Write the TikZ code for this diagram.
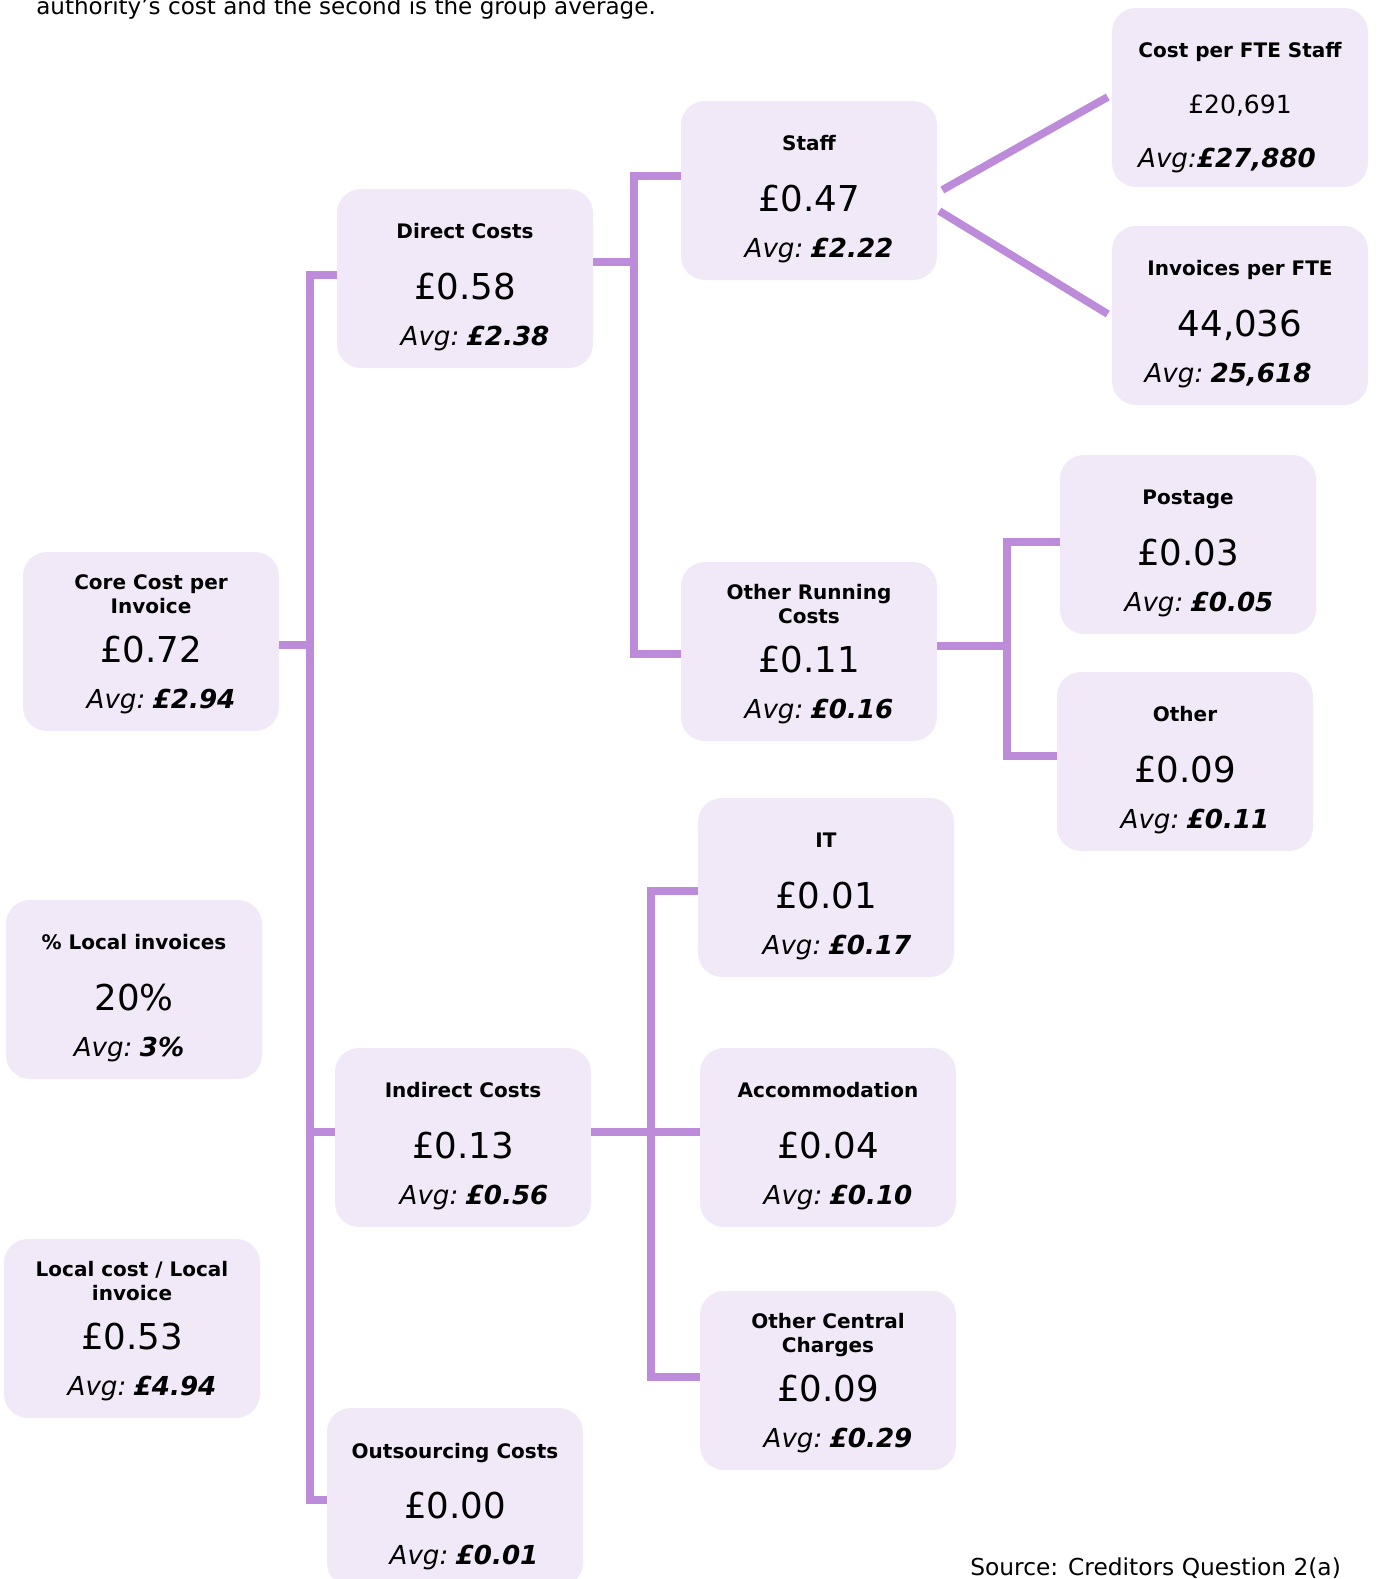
\documentclass[tikz,border=0pt]{standalone}
\usepackage{fontspec}
\setmainfont{DejaVu Sans}
\usetikzlibrary{calc}
\definecolor{boxfill}{RGB}{241,233,247}
\definecolor{conncol}{RGB}{188,140,218}
\tikzset{
  box/.style={fill=boxfill, draw=none, rounded corners=18pt, minimum width=192pt, minimum height=134.25pt, inner sep=0pt},
  ttl/.style={anchor=base, inner sep=0pt, align=center, font=\fontsize{15}{18}\selectfont\bfseries},
  val/.style={anchor=base, inner sep=0pt, font=\fontsize{26.7}{30}\selectfont},
  valsm/.style={anchor=base, inner sep=0pt, font=\fontsize{18.75}{22}\selectfont},
  avgtxt/.style={anchor=base, inner sep=0pt, font=\fontsize{19.6}{23}\selectfont},
  link/.style={draw=conncol, line width=5.8pt, line join=miter},
  plain/.style={anchor=base west, inner sep=0pt, font=\fontsize{17.3}{20}\selectfont},
}
% #1 name, #2 left, #3 top, #4 title, #5 value, #6 avg value, #7 avg dx, #8 title baseline offset (last line)
\newcommand\mkbox[8]{%
  \node[box] (#1) at ({#2+128},{#3+89.5}) {};
  \node[ttl] (#1-t) at ({#2+128},{#3+#8}) {#4};
  \node[val] (#1-v) at ({#2+128},{#3+110}) {#5};
  \node[avgtxt] (#1-a) at ({#2+128+#7},{#3+156}) {\textit{Avg:}\kern0.28em\textbf{\textit{#6}}};
}
\begin{document}
\begin{tikzpicture}[x=0.75pt,y=-0.75pt]
\useasboundingbox (0,0) rectangle (1378,1579);
\clip (0,0) rectangle (1378,1579);

\node[plain] (intro) at (36,14) {authority's cost and the second is the group average.};

% boxes
\node[box] (cpf) at (1240,97.5) {};
\node[ttl] (cpf-t) at (1240,57) {Cost per FTE Staff};
\node[valsm] (cpf-v) at (1240,113) {£20,691};
\node[avgtxt] (cpf-a) at (1227,167) {\textit{Avg:}\textbf{\textit{£27,880}}};

\mkbox{ipf}{1112}{226}{Invoices per FTE}{44,036}{25,618}{-12}{49}
\mkbox{staff}{681}{101}{Staff}{£0.47}{£2.22}{10}{49}
\mkbox{direct}{337}{189}{Direct Costs}{£0.58}{£2.38}{10}{49}
\mkbox{postage}{1060}{455}{Postage}{£0.03}{£0.05}{11}{49}
\mkbox{orc}{681}{562}{Other Running\\Costs}{£0.11}{£0.16}{10}{61}
\mkbox{other}{1057}{672}{Other}{£0.09}{£0.11}{10}{49}
\mkbox{core}{23}{552}{Core Cost per\\Invoice}{£0.72}{£2.94}{10}{61}
\mkbox{it}{698}{798}{IT}{£0.01}{£0.17}{11}{49}
\mkbox{local}{6}{900}{\% Local invoices}{20\%}{3\%}{-5}{49}
\mkbox{indirect}{335}{1048}{Indirect Costs}{£0.13}{£0.56}{11}{49}
\mkbox{accom}{700}{1048}{Accommodation}{£0.04}{£0.10}{10}{49}
\mkbox{lcost}{4}{1239}{Local cost / Local\\invoice}{£0.53}{£4.94}{10}{61}
\mkbox{occ}{700}{1291}{Other Central\\Charges}{£0.09}{£0.29}{10}{61}
\mkbox{outs}{327}{1408}{Outsourcing Costs}{£0.00}{£0.01}{9}{50}

% junctions
\coordinate (tA) at (310,275);
\coordinate (tB) at (310,1500);
\coordinate (dA) at (634,176);
\coordinate (dB) at (634,654);
\coordinate (oA) at (1007,542);
\coordinate (oB) at (1007,756);
\coordinate (iA) at (651,891);
\coordinate (iB) at (651,1377);

% connectors
\draw[link] (direct.west |- tA) -- (tA) -- (tB) -- (outs.west |- tB);
\draw[link] (core.east |- 0,645) -- (310,645);
\draw[link] (indirect.west |- 0,1132) -- (310,1132);

\draw[link] (staff.west |- dA) -- (dA) -- (dB) -- (orc.west |- dB);
\draw[link] (direct.east |- 0,262) -- (634,262);

\draw[link] (postage.west |- oA) -- (oA) -- (oB) -- (other.west |- oB);
\draw[link] (orc.east |- 0,646) -- (1007,646);

\draw[link] (it.west |- iA) -- (iA) -- (iB) -- (occ.west |- iB);
\draw[link] (indirect.east |- 0,1132) -- (accom.west |- 0,1132);

\draw[link] ($(staff.east |- 0,190)+(5,0)$) -- ($(cpf.west |- 0,97)+(-4,0)$);
\draw[link] ($(staff.east |- 0,211)+(2,0)$) -- ($(ipf.west |- 0,314)+(-4,0)$);

\node[plain, font=\fontsize{17.5}{20}\selectfont] (src) at (970,1575) {Source: Creditors Question 2(a)};
\end{tikzpicture}
\end{document}
